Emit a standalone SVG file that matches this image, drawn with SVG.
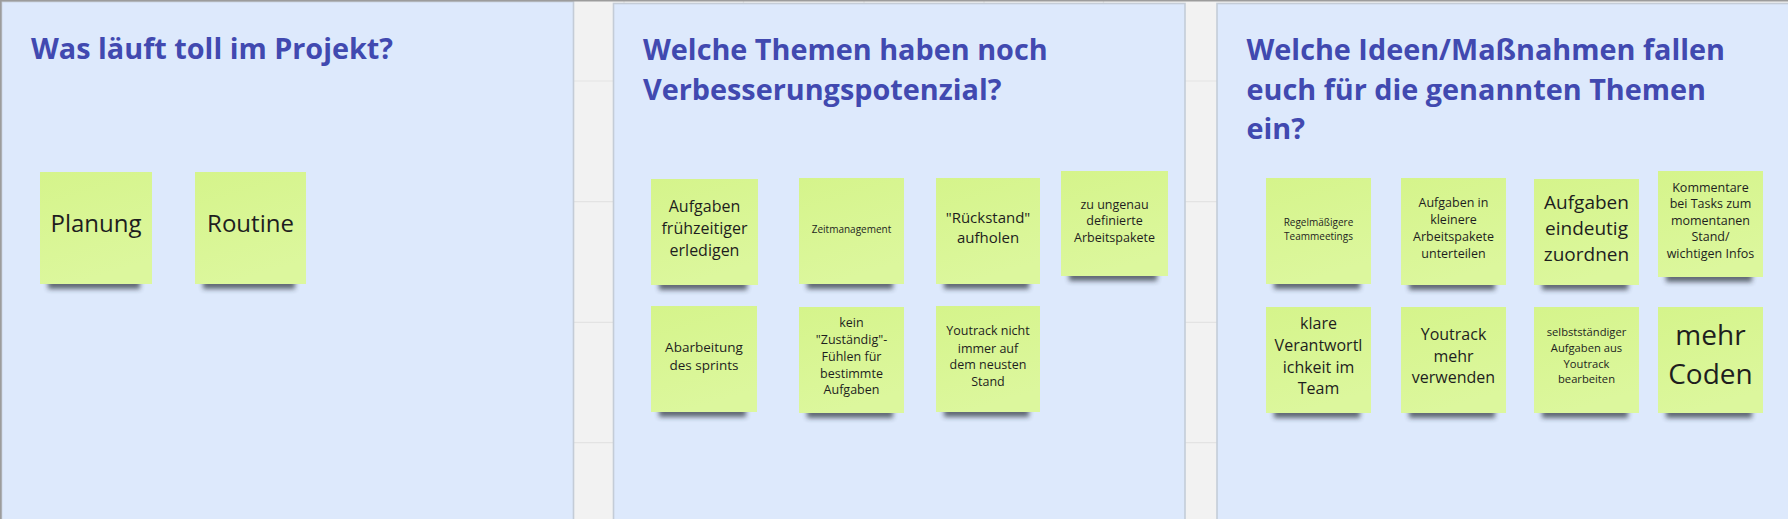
<svg xmlns="http://www.w3.org/2000/svg" width="1788" height="519" viewBox="0 0 1788 519">
<defs>
<style>
.bg{fill:#f2f2f2}
.grid{stroke:#e3e3e3;stroke-width:1.2}
.panel{fill:#dde9fc;stroke:#c4ccd7;stroke-width:1.6}
.title{font-family:"Open Sans","Noto Sans","DejaVu Sans",sans-serif;font-weight:bold;font-size:28.8px;fill:#4149b0}
.note{fill:url(#noteGrad)}
.shadow{fill:#2b303b;opacity:0.7;filter:url(#blur)}
.nt{font-family:"Open Sans","Noto Sans","DejaVu Sans",sans-serif;fill:#1e1e1e;text-anchor:middle}
</style>
<linearGradient id="noteGrad" x1="0" y1="0" x2="0.3" y2="1">
<stop offset="0" stop-color="#d5f48b"/>
<stop offset="1" stop-color="#dcf79d"/>
</linearGradient>
<filter id="blur" x="-20%" y="-100%" width="140%" height="300%">
<feGaussianBlur stdDeviation="2.6"/>
</filter>
</defs>

<rect class="bg" x="0" y="0" width="1788" height="519"/>
<g id="grid">
<line class="grid" x1="0" y1="81" x2="1788" y2="81"/>
<line class="grid" x1="0" y1="201.7" x2="1788" y2="201.7"/>
<line class="grid" x1="0" y1="322.3" x2="1788" y2="322.3"/>
<line class="grid" x1="0" y1="442.7" x2="1788" y2="442.7"/>
<line class="grid" x1="624" y1="0" x2="624" y2="519"/>
<line class="grid" x1="743.5" y1="0" x2="743.5" y2="519"/>
<line class="grid" x1="864" y1="0" x2="864" y2="519"/>
<line class="grid" x1="984" y1="0" x2="984" y2="519"/>
<line class="grid" x1="1103.5" y1="0" x2="1103.5" y2="519"/>
</g>

<g id="panel1">
<rect class="panel" x="1.5" y="1.5" width="572" height="530"/>
<text class="title" x="31" y="58.5">Was läuft toll im Projekt?</text>
</g>
<g id="panel2">
<rect class="panel" x="613.5" y="3.5" width="571.5" height="530"/>
<text class="title" x="643" y="60">Welche Themen haben noch</text>
<text class="title" x="643" y="99.5">Verbesserungspotenzial?</text>
</g>
<g id="panel3">
<rect class="panel" x="1217" y="3.5" width="590" height="530"/>
<text class="title" x="1246.5" y="60">Welche Ideen/Maßnahmen fallen</text>
<text class="title" x="1246.5" y="99.5">euch für die genannten Themen</text>
<text class="title" x="1246.5" y="138.5">ein?</text>
</g>

<line x1="0" y1="0.8" x2="1788" y2="0.8" stroke="#9c9c9c" stroke-width="1.6"/>
<line x1="0.8" y1="0" x2="0.8" y2="519" stroke="#9c9c9c" stroke-width="1.6"/>

<g id="connectors"/>

<!-- Panel 1 notes -->
<g id="note-planung">
<rect class="shadow" x="48" y="278" width="92" height="11"/>
<rect class="note" x="40" y="172" width="112" height="112"/>
<text class="nt" x="96" y="232" font-size="24">Planung</text>
</g>
<g id="note-routine">
<rect class="shadow" x="203" y="278" width="92" height="11"/>
<rect class="note" x="195" y="172" width="111" height="112"/>
<text class="nt" x="250.5" y="232" font-size="24">Routine</text>
</g>

<!-- Panel 2 notes -->
<g id="note-aufgaben-fruehzeitiger">
<rect class="shadow" x="659" y="279" width="88" height="11"/>
<rect class="note" x="651" y="179" width="107" height="106"/>
<text class="nt" x="704.5" y="212.3" font-size="16">Aufgaben</text>
<text class="nt" x="704.5" y="234.2" font-size="16">frühzeitiger</text>
<text class="nt" x="704.5" y="256" font-size="16">erledigen</text>
</g>
<g id="note-zeitmanagement">
<rect class="shadow" x="807" y="278" width="86" height="11"/>
<rect class="note" x="799" y="178" width="105" height="106"/>
<text class="nt" x="851.5" y="232.5" font-size="10">Zeitmanagement</text>
</g>
<g id="note-rueckstand">
<rect class="shadow" x="944" y="278" width="85" height="11"/>
<rect class="note" x="936" y="178" width="104" height="106"/>
<text class="nt" x="988" y="223.3" font-size="15">"Rückstand"</text>
<text class="nt" x="988" y="243.3" font-size="15">aufholen</text>
</g>
<g id="note-ungenau">
<rect class="shadow" x="1069" y="270" width="88" height="11"/>
<rect class="note" x="1061" y="171" width="107" height="105"/>
<text class="nt" x="1114.5" y="208.5" font-size="12.5">zu ungenau</text>
<text class="nt" x="1114.5" y="225" font-size="12.5">definierte</text>
<text class="nt" x="1114.5" y="241.7" font-size="12.5">Arbeitspakete</text>
</g>
<g id="note-abarbeitung">
<rect class="shadow" x="659" y="406" width="87" height="11"/>
<rect class="note" x="651" y="306" width="106" height="106"/>
<text class="nt" x="704" y="351.7" font-size="13.5">Abarbeitung</text>
<text class="nt" x="704" y="370.3" font-size="13.5">des sprints</text>
</g>
<g id="note-zustaendig">
<rect class="shadow" x="807" y="407" width="86" height="11"/>
<rect class="note" x="799" y="307" width="105" height="106"/>
<text class="nt" x="851.5" y="327.3" font-size="12.5">kein</text>
<text class="nt" x="851.5" y="344.3" font-size="12.5">"Zuständig"-</text>
<text class="nt" x="851.5" y="361" font-size="12.5">Fühlen für</text>
<text class="nt" x="851.5" y="377.7" font-size="12.5">bestimmte</text>
<text class="nt" x="851.5" y="394.3" font-size="12.5">Aufgaben</text>
</g>
<g id="note-youtrack-nicht">
<rect class="shadow" x="944" y="406" width="85" height="11"/>
<rect class="note" x="936" y="306" width="104" height="106"/>
<text class="nt" x="988" y="335.3" font-size="12.5">Youtrack nicht</text>
<text class="nt" x="988" y="352.5" font-size="12.5">immer auf</text>
<text class="nt" x="988" y="369.3" font-size="12.5">dem neusten</text>
<text class="nt" x="988" y="386" font-size="12.5">Stand</text>
</g>

<!-- Panel 3 notes -->
<g id="note-regelmaessig">
<rect class="shadow" x="1274" y="278" width="86" height="11"/>
<rect class="note" x="1266" y="178" width="105" height="106"/>
<text class="nt" x="1318.5" y="225.7" font-size="10">Regelmäßigere</text>
<text class="nt" x="1318.5" y="239.7" font-size="10">Teammeetings</text>
</g>
<g id="note-kleinere-pakete">
<rect class="shadow" x="1409" y="279" width="86" height="11"/>
<rect class="note" x="1401" y="178" width="105" height="107"/>
<text class="nt" x="1453.5" y="206.7" font-size="12.5">Aufgaben in</text>
<text class="nt" x="1453.5" y="224" font-size="12.5">kleinere</text>
<text class="nt" x="1453.5" y="240.7" font-size="12.5">Arbeitspakete</text>
<text class="nt" x="1453.5" y="258" font-size="12.5">unterteilen</text>
</g>
<g id="note-eindeutig">
<rect class="shadow" x="1542" y="279" width="86" height="11"/>
<rect class="note" x="1534" y="179" width="105" height="106"/>
<text class="nt" x="1586.5" y="208.7" font-size="19">Aufgaben</text>
<text class="nt" x="1586.5" y="234.7" font-size="19">eindeutig</text>
<text class="nt" x="1586.5" y="261" font-size="19">zuordnen</text>
</g>
<g id="note-kommentare">
<rect class="shadow" x="1666" y="271" width="86" height="11"/>
<rect class="note" x="1658" y="171" width="105" height="106"/>
<text class="nt" x="1710.5" y="191.7" font-size="12.5">Kommentare</text>
<text class="nt" x="1710.5" y="208.3" font-size="12.5">bei Tasks zum</text>
<text class="nt" x="1710.5" y="224.5" font-size="12.5">momentanen</text>
<text class="nt" x="1710.5" y="241" font-size="12.5">Stand/</text>
<text class="nt" x="1710.5" y="258.3" font-size="12.5">wichtigen Infos</text>
</g>
<g id="note-verantwortlichkeit">
<rect class="shadow" x="1274" y="407" width="86" height="11"/>
<rect class="note" x="1266" y="307" width="105" height="106"/>
<text class="nt" x="1318.5" y="329.3" font-size="16">klare</text>
<text class="nt" x="1318.5" y="351" font-size="16">Verantwortl</text>
<text class="nt" x="1318.5" y="372.7" font-size="16">ichkeit im</text>
<text class="nt" x="1318.5" y="394.3" font-size="16">Team</text>
</g>
<g id="note-youtrack-mehr">
<rect class="shadow" x="1409" y="407" width="86" height="11"/>
<rect class="note" x="1401" y="307" width="105" height="106"/>
<text class="nt" x="1453.5" y="340" font-size="16">Youtrack</text>
<text class="nt" x="1453.5" y="361.7" font-size="16">mehr</text>
<text class="nt" x="1453.5" y="383.3" font-size="16">verwenden</text>
</g>
<g id="note-selbststaendig">
<rect class="shadow" x="1542" y="407" width="86" height="11"/>
<rect class="note" x="1534" y="307" width="105" height="106"/>
<text class="nt" x="1586.5" y="336" font-size="11.2">selbstständiger</text>
<text class="nt" x="1586.5" y="352.3" font-size="11.2">Aufgaben aus</text>
<text class="nt" x="1586.5" y="368.3" font-size="11.2">Youtrack</text>
<text class="nt" x="1586.5" y="383.3" font-size="11.2">bearbeiten</text>
</g>
<g id="note-mehr-coden">
<rect class="shadow" x="1666" y="407" width="86" height="11"/>
<rect class="note" x="1658" y="307" width="105" height="106"/>
<text class="nt" x="1710.5" y="345" font-size="28">mehr</text>
<text class="nt" x="1710.5" y="384" font-size="28">Coden</text>
</g>
</svg>
